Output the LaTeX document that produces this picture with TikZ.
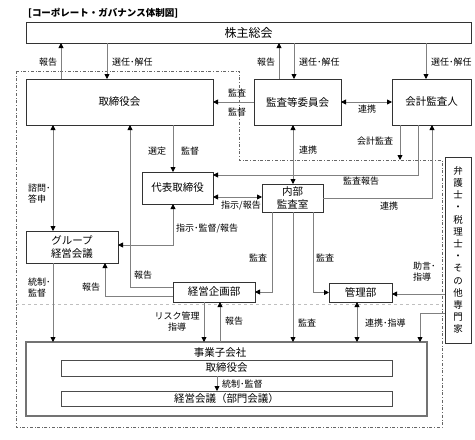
\documentclass[tikz,border=0pt]{standalone}
\usepackage{fontspec}
\setmainfont{Noto Sans CJK JP}
\usetikzlibrary{arrows.meta}

\begin{document}
\begin{tikzpicture}[x=1pt,y=-1pt,
	>={Triangle[length=5pt,width=5pt,color=black]},
	box/.style={draw=black!80,line width=1pt,inner sep=0pt,outer sep=0pt,anchor=north west,font=\fontsize{10.5}{12.5}\selectfont},
	lab/.style={inner sep=0pt,font=\fontsize{9}{11}\selectfont},
	con/.style={draw=black!50,line width=0.8pt}]
	\useasboundingbox (0,0) rectangle (475,440);
	\node[anchor=west,inner sep=0pt,font=\bfseries\fontsize{9.5}{11}\selectfont] (title) at (28,13) {[コーポレート・ガバナンス体制図]};

	% parent company
	\node[box,minimum width=445pt,minimum height=21pt,font=\fontsize{12}{14}\selectfont] (kabu) at (26,22) {株主総会};
	\node[box,minimum width=187pt,minimum height=46pt] (tori) at (26,79) {取締役会};
	\node[box,minimum width=87pt,minimum height=46pt] (kansa) at (254,79) {監査等委員会};
	\node[box,minimum width=79pt,minimum height=46pt] (kaikei) at (392,79) {会計監査人};
	\node[box,minimum width=71pt,minimum height=32pt] (daihyo) at (142,172) {代表取締役};
	\node[box,minimum width=61pt,minimum height=28pt,align=center] (naibu) at (262,184) {内部\\監査室};
	\node[box,minimum width=92pt,minimum height=32pt,align=center] (group) at (26,231) {グループ\\経営会議};
	\node[box,minimum width=82pt,minimum height=20pt] (kikaku) at (173,282) {経営企画部};
	\node[box,minimum width=63pt,minimum height=19pt] (kanri) at (329,283) {管理部};
	\node[box,minimum width=26pt,minimum height=186pt,align=center,font=\fontsize{9.5}{12.2}\selectfont] (senmon) at (445,157) {弁\\護\\士\\・\\税\\理\\士\\・\\そ\\の\\他\\専\\門\\家};

	% subsidiaries
	\node[box,draw=black!55,line width=1.2pt,minimum width=401pt,minimum height=74pt] (jigyo) at (26,342) {};
	\node[lab,font=\fontsize{10.5}{12}\selectfont] (jtitle) at (220,353) {事業子会社};
	\node[box,draw=black!70,line width=0.8pt,minimum width=331pt,minimum height=16pt] (jtori) at (61,360) {取締役会};
	\node[box,draw=black!70,line width=0.8pt,minimum width=331pt,minimum height=15pt] (jkeiei) at (61,391) {経営会議（部門会議）};

	\draw[black!60,dash dot] (16,71) -- (239,71) -- (239,160) -- (442,160) -- (442,427) -- (16,427) -- cycle;
	\draw[black!25,dashed] (16,304) -- (442,304);
	\coordinate (kkend) at (400,160);

	% connectors
	\draw[con,->] (61,0 |- tori.north) -- (61,0 |- kabu.south);
	\draw[con,->] (107,0 |- kabu.south) -- (107,0 |- tori.north);
	\draw[con,->] (279,0 |- kansa.north) -- (279,0 |- kabu.south);
	\draw[con,->] (294,0 |- kabu.south) -- (294,0 |- kansa.north);
	\draw[con,->] (426,0 |- kabu.south) -- (426,0 |- kaikei.north);
	\draw[con,->] (kansa.west) -- (tori.east);
	\draw[con,<->] (kansa.east) -- (kaikei.west);
	\draw[con,->] (173,0 |- tori.south) -- (173,0 |- daihyo.north);
	\draw[con,<->] (53,0 |- tori.south) -- (53,0 |- group.north);
	\draw[con,->] (kikaku.west |- 0,287) -| (130,0 |- tori.south);
	\draw[con,<->] (293,0 |- kansa.south) -- (293,0 |- naibu.north);
	\draw[con,->] (kkend |- kaikei.south) -- (kkend);
	\draw[con,->] (418,0 |- kaikei.south) |- (daihyo.east |- 0,175);
	\draw[con,<-] (432,0 |- kaikei.south) |- (naibu.east);
	\draw[con,<->] (daihyo.east |- 0,197) -- (naibu.west |- 0,197);
	\draw[con,<->] (173,0 |- daihyo.south) |- (group.east |- 0,245);
	\draw[con,->] (kikaku.west |- 0,296) -| (105,0 |- group.south);
	\draw[con,->] (53,0 |- group.south) -- (53,0 |- jigyo.north);
	\draw[con,->] (272,0 |- naibu.south) |- (kikaku.east);
	\draw[con,->] (313,0 |- naibu.south) |- (kanri.west);
	\draw[con,->] (293,0 |- naibu.south) -- (293,0 |- jigyo.north);
	\draw[con,<->] (357,0 |- kanri.south) -- (357,0 |- jigyo.north);
	\draw[con,->] (senmon.west |- 0,294) -- (kanri.east |- 0,294);
	\draw[con,->] (senmon.west |- 0,313) -| (420,0 |- jigyo.north);
	\draw[con,->] (204,0 |- kikaku.south) -- (204,0 |- jigyo.north);
	\draw[con,->] (220,0 |- jigyo.north) -- (220,0 |- kikaku.south);
	\draw[con,->] (217,0 |- jtori.south) -- (217,0 |- jkeiei.north);

	% labels
	\node[lab] (hk1) at (48,62) {報告};
	\node[lab,anchor=west] (sn1) at (112,62) {選任･解任};
	\node[lab] (hk2) at (266,62) {報告};
	\node[lab,anchor=west] (sn2) at (299,62) {選任･解任};
	\node[lab,anchor=west] (sn3) at (431,62) {選任･解任};
	\node[lab] (ks1) at (237,93) {監査};
	\node[lab] (kt1) at (237,112) {監督};
	\node[lab] (rk1) at (367,109) {連携};
	\node[lab] (st1) at (157,151) {選定};
	\node[lab] (kt2) at (190,151) {監督};
	\node[lab,anchor=west,align=left] (sm1) at (28,194) {諮問･\\答申};
	\node[lab] (hk3) at (143,275) {報告};
	\node[lab] (rk2) at (308,150) {連携};
	\node[lab] (kk1) at (375,141) {会計監査};
	\node[lab] (kh1) at (361,181) {監査報告};
	\node[lab] (rk3) at (389,206) {連携};
	\node[lab] (sj1) at (241,206) {指示/報告};
	\node[lab,anchor=west] (sj2) at (176,229) {指示･監督/報告};
	\node[lab] (hk4) at (91,287) {報告};
	\node[lab,anchor=west,align=left] (tk1) at (28,288) {統制･\\監督};
	\node[lab] (ks2) at (258,258) {監査};
	\node[lab] (ks3) at (325,258) {監査};
	\node[lab] (ks4) at (307,323) {監査};
	\node[lab,anchor=west] (rs1) at (365,323) {連携･指導};
	\node[lab,anchor=west,align=left] (js1) at (413,272) {助言･\\指導};
	\node[lab,align=center] (rs2) at (177,322) {リスク管理\\指導};
	\node[lab] (hk5) at (234,321) {報告};
	\node[lab,anchor=west] (tk2) at (222,384) {統制･監督};
\end{tikzpicture}
\end{document}
